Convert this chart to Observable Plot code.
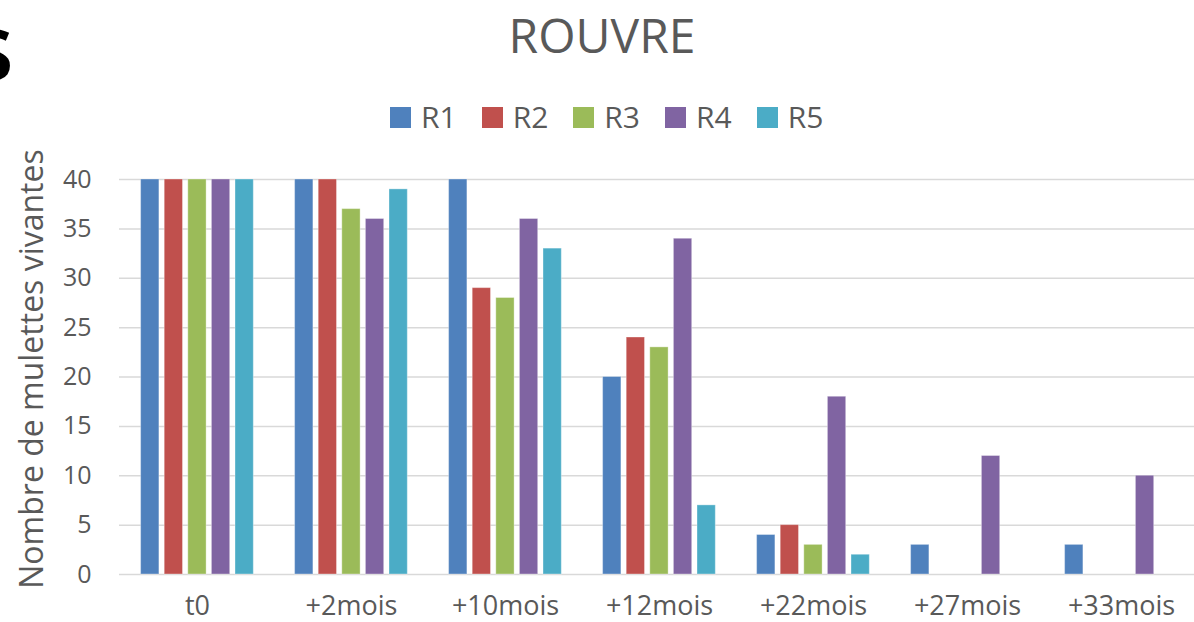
<!DOCTYPE html>
<html>
<head>
<meta charset="utf-8">
<script src="https://cdn.jsdelivr.net/npm/d3@7"></script>
<script src="https://cdn.jsdelivr.net/npm/@observablehq/plot@0.6"></script>
<style>
  html, body { margin: 0; padding: 0; background: #fff; }
  body { width: 1194px; height: 622px; position: relative; overflow: hidden; font-family: "Open Sans", sans-serif; color: #595959; }
  #title { position: absolute; top: 2px; left: 0; width: 1204px; text-align: center; font-size: 48px; line-height: 66px; }
  #legend { position: absolute; top: 96px; left: 390px; display: flex; gap: 25px; font-size: 30px; line-height: 42px; }
  #legend .item { display: flex; align-items: center; gap: 10px; }
  #legend .sw { width: 21px; height: 21px; display: inline-block; }
  #frag { position: absolute; left: -31px; top: -20px; font-size: 92px; font-weight: 600; color: #000; line-height: 130px; }
  #chart { position: absolute; left: 0; top: 150px; }
</style>
</head>
<body>
<div id="frag">s</div>
<div id="title">ROUVRE</div>
<div id="legend"></div>
<div id="chart"></div>
<script>
const categories = ["t0", "+2mois", "+10mois", "+12mois", "+22mois", "+27mois", "+33mois"];
const seriesNames = ["R1", "R2", "R3", "R4", "R5"];
const colors = ["#4F81BD", "#C0504D", "#9BBB59", "#8064A2", "#4BACC6"];
const R1 = [40, 40, 40, 20, 4, 3, 3];
const R2 = [40, 40, 29, 24, 5, 0, 0];
const R3 = [40, 37, 28, 23, 3, 0, 0];
const R4 = [40, 36, 36, 34, 18, 12, 10];
const R5 = [40, 39, 33, 7, 2, 0, 0];
const yTicks = [0, 5, 10, 15, 20, 25, 30, 35, 40];

const seriesValues = [R1, R2, R3, R4, R5];

// legend
const legend = document.getElementById("legend");
seriesNames.forEach((s, i) => {
  const item = document.createElement("div");
  item.className = "item";
  const sw = document.createElement("span");
  sw.className = "sw";
  sw.style.background = colors[i];
  const t = document.createElement("span");
  t.textContent = s;
  item.appendChild(sw);
  item.appendChild(t);
  legend.appendChild(item);
});

const step = 154.2;
const barW = 18.5;
const barStep = 23.6;
const firstInset = 20.6;

const barMarks = seriesValues.map((vals, i) => {
  const data = categories.map((c, j) => ({cat: c, value: vals[j], series: seriesNames[i]}));
  const left = firstInset + i * barStep;
  return Plot.barY(data, {
    x: "cat",
    y: "value",
    fill: colors[i],
    stroke: "white",
    strokeOpacity: 0.35,
    strokeWidth: 1,
    insetLeft: left,
    insetRight: step - left - barW
  });
});

const chart = Plot.plot({
  width: 1194,
  height: 472,
  marginTop: 29,
  marginBottom: 48,
  marginLeft: 119,
  marginRight: 0,
  style: { fontFamily: "Open Sans, sans-serif", color: "#595959", background: "white" },
  x: { domain: categories, range: [119.2, 119.2 + step * 7], padding: 0, label: null },
  y: { domain: [0, 40], range: [424, 29], label: null },
  marks: [
    Plot.ruleY(yTicks, { stroke: "#d9d9d9", strokeWidth: 1.5 }),
    ...barMarks,
    Plot.axisX({ tickSize: 0, tickPadding: 21, fontSize: 27, label: null }),
    Plot.axisY({ ticks: yTicks, tickSize: 0, tickPadding: 28, fontSize: 25, label: null }),
    Plot.text(["Nombre de mulettes vivantes"], {
      frameAnchor: "middle", x: null, y: null, text: d => d,
      rotate: -90, fontSize: 32, fill: "#595959",
      dx: -(119 - 32) - (1194 - 119) / 2, dy: -8
    })
  ]
});
document.getElementById("chart").appendChild(chart);
</script>
</body>
</html>
